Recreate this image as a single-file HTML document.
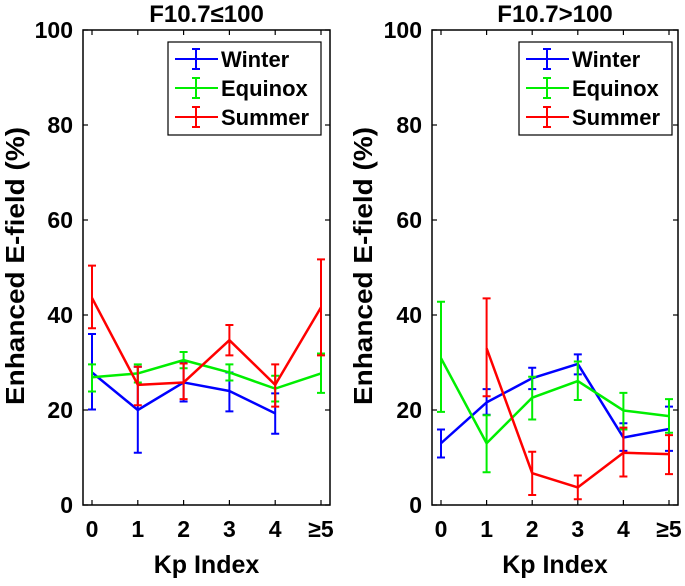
<!DOCTYPE html>
<html><head><meta charset="utf-8"><style>
body{margin:0;background:#fff;width:685px;height:581px;overflow:hidden}
text{font-family:"Liberation Sans",sans-serif;font-weight:bold;fill:#000}
</style></head><body>
<svg id="chart" width="685" height="581" xmlns="http://www.w3.org/2000/svg"></svg>
<script>
const categories = ["0","1","2","3","4","\u22655"];
const yTicks = [0,20,40,60,80,100];
const seriesNames = ["Winter","Equinox","Summer"];
const seriesColors = ["#0000ff","#00ee00","#ff0000"];
// Low F10.7 panel
const lowWinter = [27.9,20,25.8,24,19.3,null];
const lowWinterHi = [36,29.1,30,27.9,23.5,null];
const lowWinterLo = [20.1,11,21.8,19.7,15,null];
const lowEquinox = [26.9,27.7,30.5,27.9,24.5,27.7];
const lowEquinoxHi = [29.6,29.6,32.2,29.6,27.2,31.9];
const lowEquinoxLo = [23.9,25.8,28.8,26.2,21.8,23.6];
const lowSummer = [43.6,25.3,25.8,34.7,25.3,41.6];
const lowSummerHi = [50.4,29.1,29.8,37.9,29.6,51.7];
const lowSummerLo = [37.2,21,22.3,31.5,20.7,31.5];
// High F10.7 panel
const highWinter = [13,21.6,26.7,29.7,14.2,16];
const highWinterHi = [15.9,24.4,28.9,31.7,17.2,20.7];
const highWinterLo = [10,19,24.4,27.5,11.4,11.4];
const highEquinox = [30.9,13,22.6,26.1,19.9,18.7];
const highEquinoxHi = [42.8,18.9,27,30.2,23.6,22.3];
const highEquinoxLo = [19.6,6.9,18,22.1,15.9,15.2];
const highSummer = [null,33,6.7,3.7,11,10.7];
const highSummerHi = [null,43.5,11.2,6.2,16.3,14.7];
const highSummerLo = [null,22.9,2.1,1.2,6,6.5];

const NS="http://www.w3.org/2000/svg";
const svg=document.getElementById('chart');
function mk(tag,attrs,parent){const e=document.createElementNS(NS,tag);for(const k in attrs)e.setAttribute(k,attrs[k]);(parent||svg).appendChild(e);return e;}
const plotTop=30,plotBottom=505;
function yS(v){return plotBottom-(v/100)*(plotBottom-plotTop);}

function panel(left,right,title,vals,his,los,name,legOff){
  const g=mk('g',{});
  
  
  const x0=left+9,step=(right-left-18)/5;
  const xS=i=>x0+i*step;
  const t=mk('text',{x:(left+right)/2,y:22,'text-anchor':'middle','font-size':24},g);
  t.textContent=title;
  
  
  const box=mk('rect',{x:left,y:plotTop,width:right-left,height:plotBottom-plotTop,fill:'none',stroke:'#000','stroke-width':1.5},g);
  
  
  yTicks.forEach(v=>{
    const y=yS(v);
    mk('line',{x1:left,x2:left+5,y1:y,y2:y,stroke:'#000','stroke-width':1.2},g);
    mk('line',{x1:right,x2:right-5,y1:y,y2:y,stroke:'#000','stroke-width':1.2},g);
    const l=mk('text',{x:left-10,y:y+8,'text-anchor':'end','font-size':23},g);
    l.textContent=v;
    
    
  });
  categories.forEach((c,i)=>{
    const x=xS(i);
    mk('line',{x1:x,x2:x,y1:plotBottom,y2:plotBottom-5,stroke:'#000','stroke-width':1.2},g);
    mk('line',{x1:x,x2:x,y1:plotTop,y2:plotTop+5,stroke:'#000','stroke-width':1.2},g);
    const l=mk('text',{x:x,y:537,'text-anchor':'middle','font-size':23},g);
    l.textContent=c;
    
    
  });
  const xl=mk('text',{x:(left+right)/2,y:573,'text-anchor':'middle','font-size':25},g);
  xl.textContent='Kp Index';
  
  
  vals.forEach((arr,s)=>{
    const col=seriesColors[s];
    let d='';let pen=false;
    arr.forEach((v,i)=>{ if(v==null){pen=false;return;} d+=(pen?'L':'M')+xS(i)+' '+yS(v)+' '; pen=true; });
    const p=mk('path',{d:d,fill:'none',stroke:col,'stroke-width':2.5,'stroke-linejoin':'round'},g);
    
    
    arr.forEach((v,i)=>{
      if(v==null)return;
      const x=xS(i),yh=yS(his[s][i]),yl=yS(los[s][i]);
      const eb=mk('path',{d:`M${x} ${yh}L${x} ${yl}M${x-4} ${yh}L${x+4} ${yh}M${x-4} ${yl}L${x+4} ${yl}`,stroke:col,'stroke-width':2,fill:'none'},g);
      
      
    });
  });
  const lx=left+legOff,ly=42;
  const lg=mk('g',{},g);
  
  
  mk('rect',{x:lx,y:ly,width:153,height:93,fill:'#fff',stroke:'#000','stroke-width':1.2},lg);
  seriesNames.forEach((n,s)=>{
    const y=ly+17+s*29,col=seriesColors[s];
    const e=mk('g',{},lg);
    
    
    mk('path',{d:`M${lx+7} ${y}L${lx+50} ${y}M${lx+28} ${y-10}L${lx+28} ${y+10}M${lx+24} ${y-10}L${lx+32} ${y-10}M${lx+24} ${y+10}L${lx+32} ${y+10}`,stroke:col,'stroke-width':2,fill:'none'},e);
    const t=mk('text',{x:lx+53,y:y+8,'font-size':22},e);
    t.textContent=n;
  });
}
panel(83,330,'F10.7\u2264100',[lowWinter,lowEquinox,lowSummer],[lowWinterHi,lowEquinoxHi,lowSummerHi],[lowWinterLo,lowEquinoxLo,lowSummerLo],'panel-low-f107',85);
panel(432,678,'F10.7>100',[highWinter,highEquinox,highSummer],[highWinterHi,highEquinoxHi,highSummerHi],[highWinterLo,highEquinoxLo,highSummerLo],'panel-high-f107',87);
const yl=mk('text',{x:0,y:0,'text-anchor':'middle','font-size':26,textLength:278,lengthAdjust:'spacingAndGlyphs',transform:'translate(24,266) rotate(-90)'});
yl.textContent='Enhanced E-field (%)';


const yl2=mk('text',{x:0,y:0,'text-anchor':'middle','font-size':26,textLength:278,lengthAdjust:'spacingAndGlyphs',transform:'translate(372,266) rotate(-90)'});
yl2.textContent='Enhanced E-field (%)';


</script>
</body></html>
